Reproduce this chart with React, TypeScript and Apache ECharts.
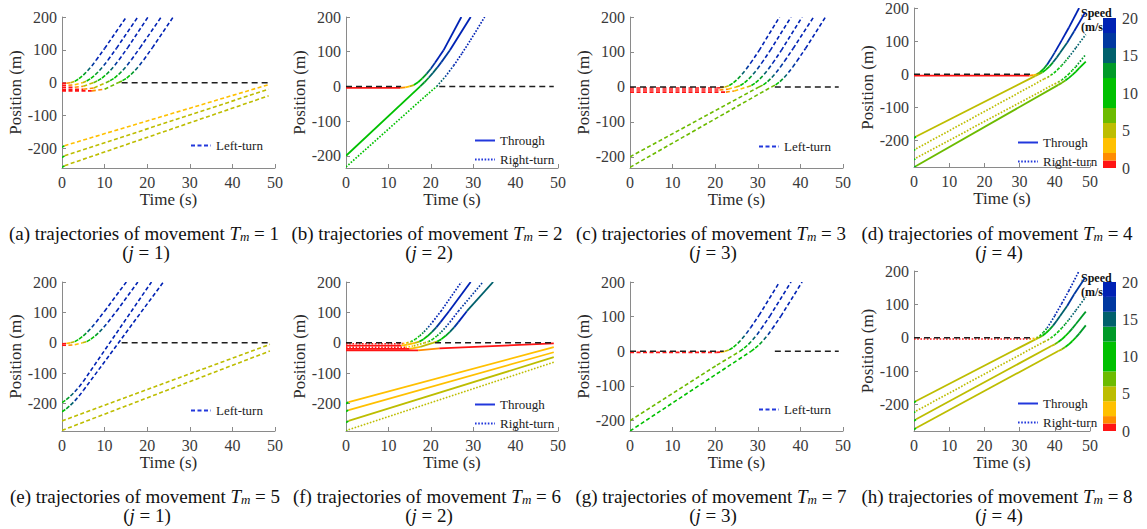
import React, { useEffect, useRef } from "react";
import * as echarts from "echarts";

type Pt = [number, number];

const SERIF = "Liberation Serif";

// ---- speed colour scale (m/s) ----
const speedBreaks = [0, 1, 2, 4, 6, 8, 12, 14, 16, 18, 20];
const speedColors = ["#ff1414", "#ff8c00", "#ffc000", "#bdbd00", "#6cbb00", "#00c000", "#009a28", "#00606c", "#0038a0", "#0022b4"];
const speedTicks = [0, 5, 10, 15, 20];
const yTicks = [-200, -100, 0, 100, 200];

// ---- (a) movement 1, j = 1 ----
const aLeftTurn: Pt[][] = [
  [[0, -2], [1, -1.6], [2, 0], [3, 4], [4, 12], [5, 23], [6, 36], [7, 51], [8, 68], [10, 104], [15.1, 200]],
  [[0, -8], [1.5, -8], [3, -6.5], [4.8, 0], [5.8, 5], [6.8, 13], [7.8, 24], [8.8, 37], [9.8, 52], [10.8, 69], [12.8, 105], [17.8, 200]],
  [[0, -14], [3, -14], [5, -11], [7.4, 0], [8.4, 6], [9.4, 14], [10.4, 25], [11.4, 38], [12.4, 53], [13.4, 70], [15.4, 106], [20.2, 200]],
  [[0, -20], [5, -20], [7.5, -16], [10.3, 0], [11.3, 6], [12.3, 14], [13.3, 25], [14.3, 38], [15.3, 53], [16.3, 70], [18.3, 106], [23.3, 200]],
  [[0, -25], [7, -25], [10, -20], [13.2, 0], [14.2, 6], [15.2, 14], [16.2, 25], [17.2, 38], [18.2, 53], [19.2, 70], [21.2, 106], [26.1, 200]],
  [[0, -197], [0.6, -192], [48.5, -6]],
  [[0, -228], [0.6, -223], [48.5, -20]],
  [[0, -258], [0.6, -253], [48.5, -40]],
];
const aStop: Pt[] = [[14, 49]];

// ---- (b) movement 2, j = 2 ----
const bThrough: Pt[][] = [
  [[0, -4], [12.8, -4], [14, -2.8], [15, 0], [16, 4], [17, 12], [18, 23], [19, 36], [20, 51], [21, 68], [23, 104], [27.2, 200]],
  [[0, -200], [17.5, 0], [18.5, 12], [19.5, 25], [20.5, 39], [21.5, 54], [22.5, 70], [24.5, 104], [29.4, 200]],
];
const bRightTurn: Pt[][] = [
  [[0, -232], [19, -25], [21.4, 0], [23.4, 28], [25.4, 60], [27.4, 96], [29.4, 134], [32.7, 200]],
];
const bStop: Pt[] = [[0, 13], [22, 49]];

// ---- (c) movement 3, j = 3 ----
const cLeftTurn: Pt[][] = [
  [[0, -3], [20.3, -3], [21.3, -2.4], [22.3, 0], [23.3, 4], [24.3, 12], [25.3, 23], [26.3, 36], [27.3, 51], [28.3, 68], [30.3, 104], [35.1, 200]],
  [[0, -9], [21, -9], [23, -6.5], [24.9, 0], [25.9, 4], [26.9, 12], [27.9, 23], [28.9, 36], [29.9, 51], [30.9, 68], [32.9, 104], [37.8, 200]],
  [[0, -15], [22.5, -15], [24.5, -11.5], [27.5, 0], [28.5, 4], [29.5, 12], [30.5, 23], [31.5, 36], [32.5, 51], [33.5, 68], [35.5, 104], [40.4, 200]],
  [[0, -200], [30.3, 0], [31.3, 6], [32.3, 15], [33.3, 27], [34.3, 41], [35.3, 57], [36.3, 74], [38.3, 110], [43.1, 200]],
  [[0, -230], [33.2, 0], [34.2, 6], [35.2, 15], [36.2, 27], [37.2, 41], [38.2, 57], [39.2, 74], [41.2, 110], [45.9, 200]],
];
const cStop: Pt[] = [[0, 22], [34, 49]];

// ---- (d) movement 4, j = 4 ----
const dThrough: Pt[][] = [
  [[0, -4], [32.8, -4], [33.8, -3], [34.8, 0], [35.8, 6], [36.8, 16], [37.8, 29], [38.8, 45], [40, 66], [42, 103], [44, 141], [46.9, 200]],
  [[0, -193], [0.6, -188], [34.5, -5], [35.5, 0], [36.5, 6], [37.5, 14], [38.5, 24], [39.5, 36], [40.5, 50], [41.5, 65], [43.5, 95], [45.5, 130], [48.6, 186]],
  [[0, -282], [0.6, -277], [41, -32], [42, -26], [43, -19], [44, -11], [45, -2], [46, 8], [47, 19], [48.8, 38]],
];
const dRightTurn: Pt[][] = [
  [[0, -230], [0.6, -225], [37, -14], [38, -9], [39, -2], [40, 6], [41, 16], [42, 27], [43, 39], [44, 52], [46, 80], [48.8, 120]],
  [[0, -258], [0.6, -253], [40, -29], [41, -24], [42, -17], [43, -9], [44, 1], [45, 12], [46, 23], [48.8, 60]],
];
const dStop: Pt[] = [[0, 34]];

// ---- (e) movement 5, j = 1 ----
const eLeftTurn: Pt[][] = [
  [[0, -3], [1, -2.2], [2, 0], [3, 4], [4, 12], [5, 23], [6, 36], [7, 51], [8, 68], [10, 104], [15.1, 200]],
  [[0, -8], [1.5, -8], [3, -6.5], [4.8, 0], [5.8, 4], [6.8, 12], [7.8, 23], [8.8, 36], [9.8, 51], [10.8, 68], [12.8, 104], [17.8, 200]],
  [[0, -197], [1, -187], [2, -175], [3, -161], [4, -145], [5, -127], [21, 200]],
  [[0, -227], [1, -217], [2, -205], [3, -191], [4, -175], [5, -157], [23.8, 200]],
  [[0, -257], [48.8, -5]],
  [[0, -288], [48.8, -27]],
];
const eStop: Pt[] = [[14, 49]];

// ---- (f) movement 6, j = 2 ----
const fThrough: Pt[][] = [
  [[0, -9], [13, -9], [14.5, -6], [16.3, 0], [17.3, 4], [18.3, 12], [19.3, 23], [20.3, 36], [21.3, 51], [22.3, 68], [24.3, 104], [29.4, 200]],
  [[0, -20], [15, -20], [17.5, -13], [20.5, 0], [21.5, 4], [22.5, 12], [23.5, 23], [24.5, 36], [25.5, 51], [26.5, 68], [28.5, 104], [34.7, 200]],
  [[0, -25], [17, -25], [22, -18], [49, -2]],
  [[0, -200], [0.6, -195], [49, -14]],
  [[0, -226], [0.6, -221], [49, -31]],
  [[0, -262], [0.6, -257], [49, -47]],
];
const fRightTurn: Pt[][] = [
  [[0, -3], [12.4, -3], [13.4, -2.2], [14.4, 0], [15.4, 4], [16.4, 12], [17.4, 23], [18.4, 36], [19.4, 51], [20.4, 68], [22.4, 104], [27.2, 200]],
  [[0, -15], [14, -15], [16, -10], [18.5, 0], [19.5, 4], [20.5, 12], [21.5, 23], [22.5, 36], [23.5, 51], [24.5, 68], [26.5, 104], [32.3, 200]],
  [[0, -290], [0.6, -286], [49, -64]],
];
const fStop: Pt[] = [[0, 13], [21, 49]];

// ---- (g) movement 7, j = 3 ----
const gLeftTurn: Pt[][] = [
  [[0, -3], [20.3, -3], [21.3, -2.4], [22.3, 0], [23.3, 4], [24.3, 12], [25.3, 23], [26.3, 36], [27.3, 51], [28.3, 68], [30.3, 104], [35.1, 200]],
  [[0, -200], [20.4, -40], [25.8, 0], [26.8, 9], [27.8, 20], [28.8, 33], [29.8, 48], [30.8, 65], [32.8, 101], [37.8, 200]],
  [[0, -230], [28.4, 0], [29.4, 9], [30.4, 20], [31.4, 33], [32.4, 48], [33.4, 65], [35.4, 101], [40.4, 200]],
];
const gStop: Pt[] = [[0, 22], [34, 49]];

// ---- (h) movement 8, j = 4 ----
const hThrough: Pt[][] = [
  [[0, -195], [0.6, -190], [34.5, -5], [35.5, 0], [36.5, 6], [37.5, 14], [38.5, 24], [39.5, 36], [40.5, 50], [41.5, 65], [43.5, 95], [45.5, 130], [48.6, 180]],
  [[0, -250], [0.6, -245], [39, -25], [40, -20], [41, -13], [42, -5], [43, 5], [44, 16], [45, 28], [46, 41], [48.8, 78]],
  [[0, -276], [0.6, -271], [41, -40], [42, -35], [43, -28], [44, -20], [45, -10], [46, 1], [47, 13], [48.8, 37]],
];
const hRightTurn: Pt[][] = [
  [[0, -4], [32.8, -4], [33.8, -3], [34.8, 0], [35.8, 6], [36.8, 16], [37.8, 29], [38.8, 45], [40, 66], [42, 103], [44, 141], [46.9, 200]],
  [[0, -225], [0.6, -220], [37, -12], [38, -7], [39, 0], [40, 8], [41, 18], [42, 29], [43, 41], [44, 54], [46, 82], [48.8, 122]],
];
const hStop: Pt[] = [[0, 34]];

// ---- layout (positions / styles only) ----
type Kind = "T" | "R" | "L";
const kindName: Record<Kind, string> = { T: "Through", R: "Right-turn", L: "Left-turn" };
const kindDash: Record<Kind, number[] | null> = { T: null, R: [1.6, 1.6], L: [4, 2.5] };
const kindWidth: Record<Kind, number> = { T: 1.8, R: 1.7, L: 1.6 };
const legendBlue = "#2238dc";

const panels = [
  { id: "a", left: 62, top: 17, width: 213, height: 151, yMin: -260, yMax: 200, trajs: { L: aLeftTurn }, stop: aStop, lg: ["L"], lgLeft: 190, lgTop: 139, m: "1", j: "1", capX: 144, capY: 233 },
  { id: "b", left: 346, top: 17, width: 212, height: 151, yMin: -235, yMax: 200, trajs: { T: bThrough, R: bRightTurn }, stop: bStop, lg: ["T", "R"], lgLeft: 474, lgTop: 134, m: "2", j: "2", capX: 427, capY: 233 },
  { id: "c", left: 630, top: 17, width: 213, height: 151, yMin: -232, yMax: 200, trajs: { L: cLeftTurn }, stop: cStop, lg: ["L"], lgLeft: 758, lgTop: 140, m: "3", j: "3", capX: 711, capY: 233 },
  { id: "d", left: 914, top: 6, width: 176, height: 161, yMin: -280, yMax: 200, trajs: { T: dThrough, R: dRightTurn }, stop: dStop, lg: ["T", "R"], lgLeft: 1017, lgTop: 136, m: "4", j: "4", capX: 997, capY: 233 },
  { id: "e", left: 62, top: 282, width: 213, height: 149, yMin: -290, yMax: 200, trajs: { L: eLeftTurn }, stop: eStop, lg: ["L"], lgLeft: 190, lgTop: 404, m: "5", j: "1", capX: 145, capY: 496 },
  { id: "f", left: 346, top: 282, width: 212, height: 149, yMin: -290, yMax: 200, trajs: { T: fThrough, R: fRightTurn }, stop: fStop, lg: ["T", "R"], lgLeft: 474, lgTop: 398, m: "6", j: "2", capX: 427, capY: 496 },
  { id: "g", left: 630, top: 282, width: 213, height: 149, yMin: -230, yMax: 200, trajs: { L: gLeftTurn }, stop: gStop, lg: ["L"], lgLeft: 758, lgTop: 403, m: "7", j: "3", capX: 711, capY: 496 },
  { id: "h", left: 914, top: 271, width: 176, height: 160, yMin: -280, yMax: 200, trajs: { T: hThrough, R: hRightTurn }, stop: hStop, lg: ["T", "R"], lgLeft: 1017, lgTop: 397, m: "8", j: "4", capX: 997, capY: 496 },
];
const colorbars = [
  { left: 1103, top: 18, width: 13, height: 150, textY: 6 },
  { left: 1103, top: 282, width: 13, height: 149, textY: 271 },
];

function speedColor(v: number): string {
  for (let i = 0; i < speedColors.length; i++) if (v < speedBreaks[i + 1]) return speedColors[i];
  return speedColors[speedColors.length - 1];
}

function toSegments(trajs: Pt[][]): number[][] {
  const out: number[][] = [];
  trajs.forEach((p) => {
    for (let i = 0; i < p.length - 1; i++) {
      const [t0, y0] = p[i];
      const [t1, y1] = p[i + 1];
      out.push([t0, y0, t1, y1, (y1 - y0) / (t1 - t0)]);
    }
  });
  return out;
}

function buildOption() {
  const grid: any[] = [];
  const xAxis: any[] = [];
  const yAxis: any[] = [];
  const series: any[] = [];
  const legend: any[] = [];
  const graphic: any[] = [];
  const axisColor = "#8a8a8a";
  const labelStyle = { fontFamily: SERIF, fontSize: 16, color: "#3a3a3a" };
  const nameStyle = { fontFamily: SERIF, fontSize: 17, color: "#2a2a2a" };

  panels.forEach((p, i) => {
    grid.push({ left: p.left, top: p.top, width: p.width, height: p.height });
    xAxis.push({
      type: "value", gridIndex: i, min: 0, max: 50, interval: 10,
      axisLine: { onZero: false, lineStyle: { color: axisColor, width: 1 } },
      axisTick: { inside: true, length: 4, lineStyle: { color: axisColor } },
      axisLabel: { ...labelStyle, margin: 6 },
      splitLine: { show: false },
      name: "Time (s)", nameLocation: "middle", nameGap: 23, nameTextStyle: nameStyle,
    });
    yAxis.push({
      type: "value", gridIndex: i, min: p.yMin, max: p.yMax,
      axisLine: { show: true, onZero: false, lineStyle: { color: axisColor, width: 1 } },
      axisTick: { show: true, inside: true, length: 4, lineStyle: { color: axisColor }, customValues: yTicks },
      axisLabel: { ...labelStyle, margin: 5, customValues: yTicks },
      splitLine: { show: false },
      name: "Position (m)", nameLocation: "middle", nameGap: 33, nameRotate: 90, nameTextStyle: nameStyle,
    });

    (Object.keys(p.trajs) as Kind[]).forEach((k) => {
      const dash = kindDash[k];
      const w = kindWidth[k];
      series.push({
        type: "custom", xAxisIndex: i, yAxisIndex: i, clip: true, silent: true, z: 2,
        dimensions: ["t0", "y0", "t1", "y1", "v"],
        encode: { x: [0, 2], y: [1, 3] },
        data: toSegments((p.trajs as any)[k]),
        renderItem: (params: any, api: any) => {
          const a = api.coord([api.value(0), api.value(1)]);
          const b = api.coord([api.value(2), api.value(3)]);
          return {
            type: "line",
            shape: { x1: a[0], y1: a[1], x2: b[0], y2: b[1] },
            style: { stroke: speedColor(api.value(4)), lineWidth: w, lineDash: dash || undefined, fill: null },
          };
        },
      });
    });

    p.stop.forEach(([s, e]) => {
      series.push({
        type: "line", xAxisIndex: i, yAxisIndex: i, silent: true, z: 3, symbol: "none",
        data: [[s, 0], [e, 0]],
        lineStyle: { color: "#1e1e1e", width: 1.5, type: [6, 4] },
      });
    });

    (p.lg as Kind[]).forEach((k) => {
      series.push({
        type: "line", name: kindName[k], xAxisIndex: i, yAxisIndex: i, data: [], symbol: "none",
        lineStyle: { color: legendBlue, width: kindWidth[k], type: kindDash[k] || "solid" },
        itemStyle: { color: legendBlue },
      });
    });
    legend.push({
      orient: "vertical", left: p.lgLeft, top: p.lgTop, padding: 0,
      itemWidth: 20, itemHeight: 12, itemGap: 6, selectedMode: false,
      data: (p.lg as Kind[]).map((k) => kindName[k]),
      textStyle: { fontFamily: SERIF, fontSize: 13, color: "#222" },
      itemStyle: { opacity: 0 },
    });

    const rich = {
      n: { fontFamily: SERIF, fontSize: 19, fill: "#111", lineHeight: 19 },
      i: { fontFamily: SERIF, fontSize: 19, fontStyle: "italic", fill: "#111", lineHeight: 19 },
      s: { fontFamily: SERIF, fontSize: 13, fontStyle: "italic", fill: "#111", lineHeight: 12, verticalAlign: "bottom" },
    };
    graphic.push({
      type: "text", x: p.capX, y: p.capY, silent: true,
      style: { text: `{n|(${p.id}) trajectories of movement }{i|T}{s|m}{n| = ${p.m}}`, rich, align: "center", verticalAlign: "middle" },
    });
    graphic.push({
      type: "text", x: p.capX + 2, y: p.capY + 19, silent: true,
      style: { text: `{n|(}{i|j}{n| = ${p.j})}`, rich, align: "center", verticalAlign: "middle" },
    });
  });

  // colour bars (speed legend)
  const bandSizes = speedColors.map((_, i) => speedBreaks[i + 1] - speedBreaks[i]);
  colorbars.forEach((cb, ci) => {
    const gi = panels.length + ci;
    grid.push({ left: cb.left, top: cb.top, width: cb.width, height: cb.height });
    xAxis.push({ type: "category", gridIndex: gi, data: ["speed"], show: false });
    yAxis.push({
      type: "value", gridIndex: gi, min: speedTicks[0], max: speedTicks[speedTicks.length - 1], interval: 5, position: "right",
      axisLine: { show: false }, axisTick: { show: false }, splitLine: { show: false },
      axisLabel: { ...labelStyle, margin: 6 },
    });
    bandSizes.forEach((sz, bi) => {
      series.push({
        type: "bar", xAxisIndex: gi, yAxisIndex: gi, stack: "cb" + ci, barWidth: "100%", silent: true,
        data: [sz], itemStyle: { color: speedColors[bi] },
      });
    });
    graphic.push({
      type: "text", x: 1081, y: cb.textY, silent: true,
      style: { text: "Speed\n(m/s)", fontFamily: SERIF, fontSize: 12, fontWeight: "bold", fill: "#111", lineHeight: 14, align: "left", verticalAlign: "top" },
    });
  });

  return { animation: false, backgroundColor: "#fff", grid, xAxis, yAxis, series, legend, graphic };
}

export default function App() {
  const ref = useRef<HTMLDivElement>(null);
  useEffect(() => {
    if (!ref.current) return;
    const chart = echarts.init(ref.current, undefined, { renderer: "svg" });
    chart.setOption(buildOption() as any);
    return () => chart.dispose();
  }, []);
  return <div ref={ref} style={{ position: "absolute", left: 0, top: 0, width: 1147, height: 529 }} />;
}
